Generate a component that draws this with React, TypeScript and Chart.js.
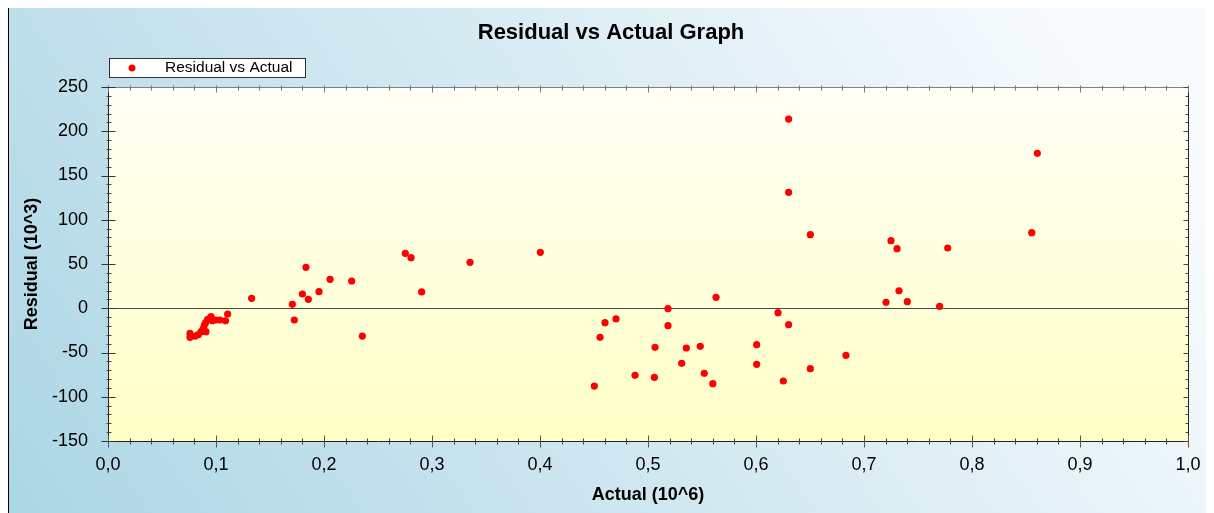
import React, { useEffect, useRef } from "react";
import { Chart, registerables } from "chart.js";

Chart.register(...registerables);

const chartTitle = "Residual vs Actual Graph";
const seriesLabel = "Residual vs Actual";
const xAxisTitle = "Actual (10^6)";
const yAxisTitle = "Residual (10^3)";

// Actual values (10^6)
const actualValues: number[] = [
  0.0759, 0.0759, 0.0806, 0.0836, 0.0861, 0.0907, 0.0883, 0.0892, 0.0904, 0.0923,
  0.0954, 0.0966, 0.0997, 0.1035, 0.1088, 0.1108,
  0.133, 0.1707, 0.1725, 0.180, 0.1833, 0.1855, 0.1954, 0.2056, 0.2256, 0.2355,
  0.2753, 0.2806, 0.2904, 0.3352, 0.4003,
  0.4503, 0.4556, 0.4602, 0.4704, 0.488, 0.5059, 0.5065, 0.5185, 0.5185, 0.5312,
  0.5355, 0.5484, 0.5521, 0.560, 0.563,
  0.6006, 0.6006, 0.6204, 0.6253, 0.6302, 0.6302, 0.6302, 0.6503, 0.6503, 0.6833,
  0.7204, 0.725, 0.7306, 0.7324, 0.7401, 0.770, 0.7775, 0.8553, 0.8605,
];

// Residual values (10^3)
const residualValues: number[] = [
  -28.4, -32.9, -31.4, -29.9, -26.5, -26.5, -22.7, -18.9, -16.3, -12.5,
  -9.5, -14.1, -13.3, -13.3, -14.1, -6.5,
  11.2, 4.4, -13.3, 16.1, 46.2, 10.1, 18.7, 32.7, 30.8, -31.4,
  62.1, 57.1, 18.4, 51.9, 63.2,
  -87.9, -32.8, -16.3, -12.1, -75.8, -78.0, -44.1, -0.5, -19.7, -62.2,
  -44.9, -43.0, -73.5, -85.2, 12.4,
  -41.2, -63.4, -5.0, -82.2, 213.8, 131.0, -18.6, 83.1, -68.3, -53.2,
  6.7, 76.3, 67.3, 19.8, 7.4, 2.2, 68.1, 85.4, 175.1,
];

const xMin = 0;
const xMax = 1;
const xMajorStep = 0.1;
const xMinorStep = 0.02;
const yMin = -150;
const yMax = 250;
const yMajorStep = 50;
const yMinorStep = 10;

const FONT = "'Liberation Sans', Arial, sans-serif";
const W = 1206;
const H = 505;

const decorPlugin = {
  id: "decor",
  beforeDraw(chart: any) {
    const { ctx, chartArea } = chart;
    ctx.save();
    const g = ctx.createLinearGradient(0, H, W * 0.8, -H * 0.3);
    g.addColorStop(0, "#acd6e5");
    g.addColorStop(1, "#f8fbfd");
    ctx.fillStyle = g;
    ctx.fillRect(0, 0, W, H);
    ctx.strokeStyle = "#000";
    ctx.lineWidth = 1;
    ctx.beginPath();
    ctx.moveTo(0.5, 0);
    ctx.lineTo(0.5, H);
    ctx.stroke();
    const pg = ctx.createLinearGradient(0, chartArea.top, 0, chartArea.bottom);
    pg.addColorStop(0, "#fffff6");
    pg.addColorStop(1, "#ffffc6");
    ctx.fillStyle = pg;
    ctx.fillRect(chartArea.left, chartArea.top, chartArea.right - chartArea.left, chartArea.bottom - chartArea.top);
    ctx.restore();
  },
  beforeDatasetsDraw(chart: any) {
    const { ctx, chartArea, scales } = chart;
    const y0 = Math.round(scales.y.getPixelForValue(0)) + 0.5;
    ctx.save();
    ctx.strokeStyle = "#4a4a4a";
    ctx.lineWidth = 1;
    ctx.beginPath();
    ctx.moveTo(chartArea.left, y0);
    ctx.lineTo(chartArea.right, y0);
    ctx.stroke();
    ctx.restore();
  },
  afterDraw(chart: any) {
    const { ctx, chartArea, scales } = chart;
    const L = chartArea.left + 0.5;
    const R = Math.round(chartArea.right) + 0.5;
    const T = chartArea.top + 0.5;
    const B = Math.round(chartArea.bottom) + 0.5;
    ctx.save();
    ctx.lineWidth = 1;
    // frame
    ctx.strokeStyle = "#808080";
    ctx.beginPath();
    ctx.moveTo(L, T);
    ctx.lineTo(R, T);
    ctx.stroke();
    ctx.strokeStyle = "#222";
    ctx.beginPath();
    ctx.moveTo(L, T);
    ctx.lineTo(L, B);
    ctx.lineTo(R, B);
    ctx.lineTo(R, T);
    ctx.stroke();
    // x ticks
    const nx = Math.round((xMax - xMin) / xMinorStep);
    for (let i = 0; i <= nx; i++) {
      const v = xMin + i * xMinorStep;
      const major = i % Math.round(xMajorStep / xMinorStep) === 0;
      const px = Math.round(scales.x.getPixelForValue(v)) + 0.5;
      ctx.strokeStyle = major ? "#555" : "#444";
      ctx.beginPath();
      if (major) {
        ctx.moveTo(px, B - 6);
        ctx.lineTo(px, B + 6);
      } else {
        ctx.moveTo(px, B - 3);
        ctx.lineTo(px, B + 3);
      }
      ctx.stroke();
      ctx.strokeStyle = "#777";
      ctx.beginPath();
      ctx.moveTo(px, T - 2);
      ctx.lineTo(px, T + (major ? 5 : 3));
      ctx.stroke();
    }
    // y ticks
    const ny = Math.round((yMax - yMin) / yMinorStep);
    for (let i = 0; i <= ny; i++) {
      const v = yMin + i * yMinorStep;
      const major = i % Math.round(yMajorStep / yMinorStep) === 0;
      const py = Math.round(scales.y.getPixelForValue(v)) + 0.5;
      ctx.strokeStyle = major ? "#333" : "#444";
      ctx.beginPath();
      if (major) {
        ctx.moveTo(L - 7, py);
        ctx.lineTo(L + 7, py);
      } else {
        ctx.moveTo(L - 2, py);
        ctx.lineTo(L + 3, py);
      }
      ctx.stroke();
      ctx.strokeStyle = "#444";
      ctx.beginPath();
      ctx.moveTo(R - (major ? 5 : 3), py);
      ctx.lineTo(R, py);
      ctx.stroke();
    }
    // title
    ctx.fillStyle = "#000";
    ctx.textAlign = "center";
    ctx.textBaseline = "middle";
    ctx.font = `bold 22px ${FONT}`;
    ctx.fillText(chartTitle, W / 2, 25);
    // axis titles
    ctx.font = `bold 18px ${FONT}`;
    ctx.fillText(xAxisTitle, (chartArea.left + chartArea.right) / 2, 487);
    ctx.save();
    ctx.translate(24, (chartArea.top + chartArea.bottom) / 2);
    ctx.rotate(-Math.PI / 2);
    ctx.fillText(yAxisTitle, 0, 0);
    ctx.restore();
    // legend
    ctx.fillStyle = "#fff";
    ctx.fillRect(101, 50, 196, 19);
    ctx.strokeStyle = "#333";
    ctx.strokeRect(101.5, 50.5, 196, 19);
    ctx.fillStyle = "#ff0000";
    ctx.beginPath();
    ctx.arc(124, 60, 3.5, 0, Math.PI * 2);
    ctx.fill();
    ctx.fillStyle = "#000";
    ctx.textAlign = "left";
    ctx.font = `15.5px ${FONT}`;
    ctx.fillText(seriesLabel, 157, 60);
    ctx.restore();
  },
};

export default function App() {
  const ref = useRef<HTMLCanvasElement | null>(null);
  useEffect(() => {
    if (!ref.current) return;
    const points = actualValues.map((x, i) => ({ x, y: residualValues[i] }));
    const fmt = (v: number) => v.toFixed(1).replace(".", ",");
    const chart = new Chart(ref.current, {
      type: "scatter",
      data: {
        datasets: [
          {
            label: seriesLabel,
            data: points,
            backgroundColor: "#ff0000",
            borderColor: "#ff0000",
            borderWidth: 0,
            pointRadius: 3.6,
            pointHoverRadius: 3.6,
          },
        ],
      },
      options: {
        responsive: false,
        animation: false,
        devicePixelRatio: 1,
        layout: { padding: { top: 79, right: 26, left: 0, bottom: 0 } },
        plugins: {
          legend: { display: false },
          title: { display: false },
          tooltip: { enabled: false },
        },
        scales: {
          x: {
            type: "linear",
            min: xMin,
            max: xMax,
            grid: { display: false, drawTicks: false },
            border: { display: false },
            ticks: {
              stepSize: xMajorStep,
              padding: 13,
              color: "#000",
              font: { family: FONT, size: 18 },
              maxRotation: 0,
              callback: (v: any) => fmt(Number(v)),
            },
            afterFit: (s: any) => {
              s.height = 72;
            },
          },
          y: {
            type: "linear",
            min: yMin,
            max: yMax,
            grid: { display: false, drawTicks: false },
            border: { display: false },
            ticks: {
              stepSize: yMajorStep,
              padding: 20,
              color: "#000",
              font: { family: FONT, size: 18 },
              callback: (v: any) => String(v),
            },
            afterFit: (s: any) => {
              s.width = 100;
            },
          },
        },
      },
      plugins: [decorPlugin],
    });
    return () => chart.destroy();
  }, []);
  return (
    <div style={{ width: W, height: H }}>
      <canvas ref={ref} width={W} height={H} style={{ display: "block" }} />
    </div>
  );
}
